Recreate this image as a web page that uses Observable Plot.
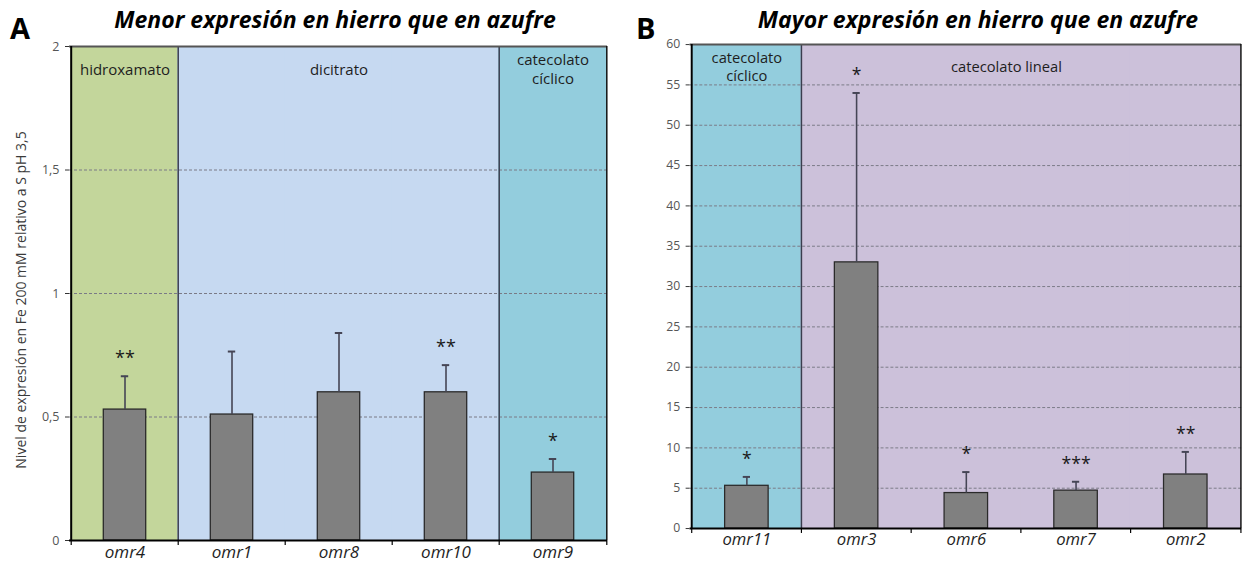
<!DOCTYPE html>
<html>
<head>
<meta charset="utf-8">
<script src="https://cdn.jsdelivr.net/npm/d3@7"></script>
<script src="https://cdn.jsdelivr.net/npm/@observablehq/plot@0.6"></script>
<style>
  html, body { margin: 0; padding: 0; background: #fff; width: 1247px; height: 566px; overflow: hidden; }
  #wrap { position: relative; width: 1247px; height: 566px; overflow: hidden; font-family: "Open Sans", sans-serif; }
  .panel { position: absolute; top: 0; }
  .title { position: absolute; font-weight: bold; font-style: italic; font-size: 23px; color: #000; white-space: nowrap; transform: translateX(-50%); }
  .letter { position: absolute; font-weight: bold; font-size: 29px; color: #000; }
  .ylab { position: absolute; font-size: 14px; color: #3a3a3a; white-space: nowrap; transform: translate(-50%, -50%) rotate(-90deg); }
</style>
</head>
<body>
<div id="wrap">
  <div class="letter" style="left:10px; top:8px;">A</div>
  <div class="letter" style="left:636px; top:8px;">B</div>
  <div class="title" style="left:335px; top:3px;">Menor expresión en hierro que en azufre</div>
  <div class="title" style="left:978px; top:3px;">Mayor expresión en hierro que en azufre</div>
  <div class="ylab" style="left:20px; top:300px;">Nivel de expresión en Fe 200 mM relativo a S pH 3,5</div>
  <div id="pa" class="panel" style="left:0px;"></div>
  <div id="pb" class="panel" style="left:620px;"></div>
</div>
<script>
// ---- Panel A data ----
const catsA = ["omr4", "omr1", "omr8", "omr10", "omr9"];
const valuesA = [0.53, 0.51, 0.60, 0.60, 0.275];
const errorsA = [0.135, 0.255, 0.24, 0.11, 0.055];
const starsA = ["**", "", "", "**", "*"];
const groupOfA = ["hidroxamato", "dicitrato", "dicitrato", "dicitrato", "catecolato cíclico"];
const groupNamesA = ["hidroxamato", "dicitrato", "catecolato cíclico"];
const groupLabelsA = ["hidroxamato", "dicitrato", "catecolato\ncíclico"];
const groupLabelAtA = ["omr4", "omr8", "omr9"];
const groupColorsA = ["#c3d69b", "#c6d9f1", "#93cddd"];
const yTicksA = [0, 0.5, 1, 1.5, 2];
const yMaxA = 2;

// ---- Panel B data ----
const catsB = ["omr11", "omr3", "omr6", "omr7", "omr2"];
const valuesB = [5.3, 33.0, 4.4, 4.7, 6.7];
const errorsB = [1.1, 21.0, 2.6, 1.1, 2.8];
const starsB = ["*", "*", "*", "***", "**"];
const groupOfB = ["catecolato cíclico", "catecolato lineal", "catecolato lineal", "catecolato lineal", "catecolato lineal"];
const groupNamesB = ["catecolato cíclico", "catecolato lineal"];
const groupLabelsB = ["catecolato\ncíclico", "catecolato lineal"];
const groupLabelAtB = ["omr11", "omr7"];
const groupColorsB = ["#93cddd", "#ccc1da"];
const yTicksB = [0, 5, 10, 15, 20, 25, 30, 35, 40, 45, 50, 55, 60];
const yMaxB = 60;

const fmt = (d) => String(d).replace(".", ",");

function panel(cfg) {
  const {cats, values, errors, stars, groupOf, groupNames, groupLabels, groupLabelAt, groupColors,
         yTicks, yMax, width, height, ml, mr, mt, mb, barW, labelDx} = cfg;
  const rows = cats.map((c, i) => ({cat: c, v: values[i], e: errors[i], top: values[i] + errors[i], star: stars[i], group: groupOf[i]}));
  const bw = (width - ml - mr) / cats.length;
  const barInset = (bw - barW) / 2;
  const capInset = (bw - 8) / 2;
  const groupStarts = cats.filter((c, i) => i > 0 && groupOf[i] !== groupOf[i - 1]);
  const labels = groupNames.map((g, i) => ({cat: groupLabelAt[i], text: groupLabels[i], dx: labelDx[i]}));
  const grid = yTicks.filter(t => t > 0 && t < yMax);
  const labelMarks = labels.map(l => Plot.text([l], {x: "cat", text: "text", dx: l.dx, frameAnchor: "top", dy: 22, lineAnchor: "middle", fontSize: 15, fill: "#1e1e1e", lineHeight: 1.25}));
  return Plot.plot({
    width, height,
    marginLeft: ml, marginRight: mr, marginTop: mt, marginBottom: mb,
    style: {fontFamily: "'Open Sans', sans-serif", background: "transparent", overflow: "visible"},
    x: {type: "band", domain: cats, padding: 0, axis: null},
    y: {domain: [0, yMax], axis: null},
    color: {domain: groupNames, range: groupColors},
    marks: [
      // group backgrounds
      Plot.barY(rows, {x: "cat", y: () => yMax, fill: "group", insetLeft: -0.6, insetRight: -0.6, insetTop: 0, insetBottom: 0}),
      // dashed gridlines
      Plot.ruleY(grid, {stroke: "#7a7a86", strokeWidth: 1, strokeDasharray: "3,2"}),
      // group dividers
      Plot.ruleX(groupStarts, {x: d => d, dx: -bw / 2, stroke: "#3a3d4e", strokeWidth: 1.5}),
      // bars
      Plot.barY(rows, {x: "cat", y: "v", fill: "#808080", stroke: "#2a2a2a", strokeWidth: 1.3, insetLeft: barInset, insetRight: barInset}),
      // error bars (upper half)
      Plot.ruleX(rows, {x: "cat", y1: "v", y2: "top", stroke: "#454555", strokeWidth: 1.6}),
      Plot.tickY(rows, {x: "cat", y: "top", stroke: "#454555", strokeWidth: 2, insetLeft: capInset, insetRight: capInset}),
      // significance stars
      Plot.text(rows, {x: "cat", y: "top", text: "star", dy: -18, fontSize: 18, fill: "#1a1a1a"}),
      // group labels
      ...labelMarks,
      // frame: top, right, left, bottom
      Plot.ruleY([yMax], {stroke: "#555", strokeWidth: 2}),
      Plot.ruleX([cats[cats.length - 1]], {x: d => d, dx: bw / 2, stroke: "#111", strokeWidth: 1.5}),
      Plot.ruleX([cats[0]], {x: d => d, dx: -bw / 2, stroke: "#000", strokeWidth: 2}),
      Plot.ruleY([0], {stroke: "#000", strokeWidth: 2}),
      // x ticks at category boundaries
      Plot.ruleX(cats, {x: d => d, y1: 0, y2: 0, insetBottom: -5, dx: -bw / 2, stroke: "#000", strokeWidth: 1.2}),
      Plot.ruleX([cats[cats.length - 1]], {x: d => d, y1: 0, y2: 0, insetBottom: -5, dx: bw / 2, stroke: "#000", strokeWidth: 1.2}),
      // axes
      Plot.axisX({tickSize: 0, tickPadding: 5, fontSize: 17, fontStyle: "italic", fill: "#1e1e1e", label: null}),
      Plot.axisY(yTicks, {tickSize: 4, tickPadding: 6, fontSize: 12.5, fill: "#555", stroke: "#333", tickFormat: fmt, label: null})
    ]
  });
}

document.getElementById("pa").appendChild(panel({
  cats: catsA, values: valuesA, errors: errorsA, stars: starsA, groupOf: groupOfA,
  groupNames: groupNamesA, groupLabels: groupLabelsA, groupLabelAt: groupLabelAtA, groupColors: groupColorsA,
  yTicks: yTicksA, yMax: yMaxA, width: 620, height: 566, ml: 69, mr: 13, mt: 46, mb: 26, barW: 43, labelDx: [0, 0, 0]
}));
document.getElementById("pb").appendChild(panel({
  cats: catsB, values: valuesB, errors: errorsB, stars: starsB, groupOf: groupOfB,
  groupNames: groupNamesB, groupLabels: groupLabelsB, groupLabelAt: groupLabelAtB, groupColors: groupColorsB,
  yTicks: yTicksB, yMax: yMaxB, width: 640, height: 566, ml: 71, mr: 6, mt: 45, mb: 27, barW: 45, labelDx: [0, -71]
}));
</script>
</body>
</html>
